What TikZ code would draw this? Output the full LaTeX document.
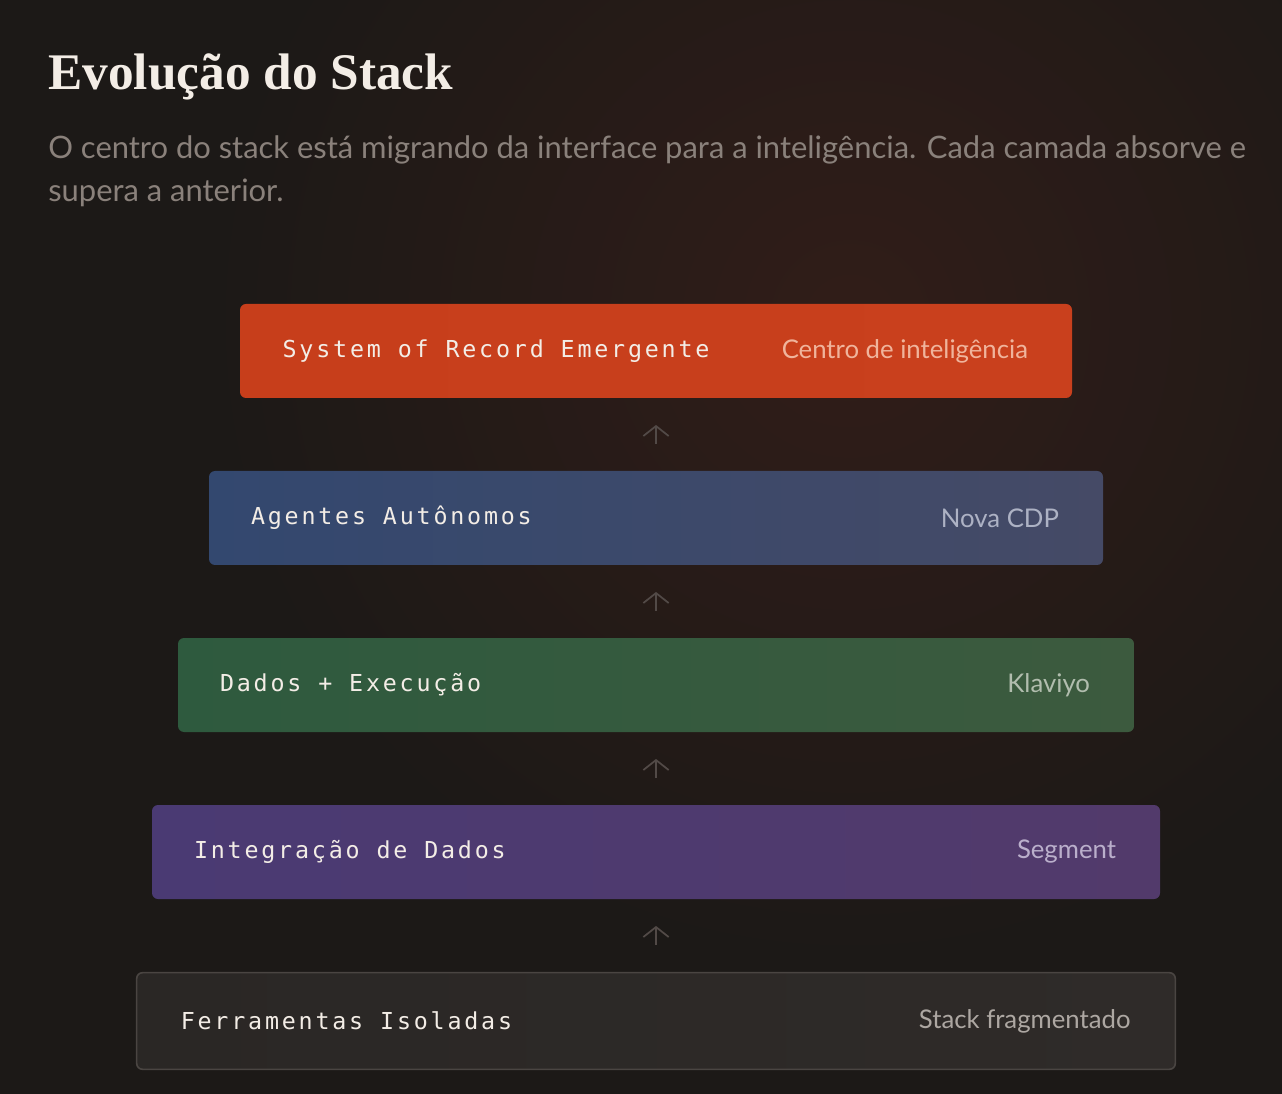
\documentclass[tikz,border=0pt]{standalone}
\usepackage{fontspec}
\usetikzlibrary{positioning,arrows.meta}
\setmainfont{Lato}
\newfontfamily\titlefont{Liberation Serif}
\newfontfamily\layerfont[LetterSpace=12]{DejaVu Sans Mono}
\definecolor{bgdark}{HTML}{1C1917}
\definecolor{bgglow}{HTML}{311D18}
\definecolor{titlecol}{HTML}{F3EDE6}
\definecolor{subcol}{HTML}{8A817B}
\definecolor{redA}{HTML}{C73E1B}
\definecolor{redB}{HTML}{C9401D}
\definecolor{blueA}{HTML}{33486F}
\definecolor{blueB}{HTML}{454A66}
\definecolor{greenA}{HTML}{2E5A3E}
\definecolor{greenB}{HTML}{3C5A3E}
\definecolor{purpA}{HTML}{4A3A73}
\definecolor{purpB}{HTML}{523A6B}
\definecolor{greyA}{HTML}{2A2725}
\definecolor{greyB}{HTML}{2F2B29}
\definecolor{greyline}{HTML}{4A4542}
\definecolor{arrowcol}{HTML}{524A47}
\definecolor{redlabel}{HTML}{F0B49C}
\definecolor{bluelabel}{HTML}{ADB2C4}
\definecolor{greenlabel}{HTML}{B1BDAE}
\definecolor{purplabel}{HTML}{BAAFCB}
\definecolor{greylabel}{HTML}{ADA7A2}
\tikzset{
  layer/.style={rounded corners=4.5pt, minimum height=70.5pt, inner sep=0pt},
  layername/.style={anchor=west, inner sep=0pt, text=titlecol, font=\layerfont\fontsize{17.5}{20}\selectfont},
  layertag/.style={anchor=east, inner sep=0pt, font=\fontsize{19.3}{22}\selectfont},
  up/.style={draw=arrowcol, line width=1.3pt, -{Straight Barb[length=7.5pt,width=19pt]}, shorten >=20pt, shorten <=20pt}
}
\begin{document}
\begin{tikzpicture}[x=0.75pt,y=-0.75pt]
        \useasboundingbox (0,0) rectangle (1282,1094);
        % Background
        \fill[bgdark] (0,0) rectangle (1282,1094);
        \begin{scope}
            \clip (0,0) rectangle (1282,1094);
            \shade[inner color=bgglow, outer color=bgdark] (850,320) circle (640);
        \end{scope}
        % Heading
        \node[anchor=base west, inner sep=0pt, text=titlecol, font=\titlefont\bfseries\fontsize{38.5}{46}\selectfont] (title) at (48,90) {Evolução do Stack};
        \node[anchor=base west, inner sep=0pt, text=subcol, font=\fontsize{23.2}{32.5}\selectfont, align=left] (sub) at (48,202)
            {O centro do stack está migrando da interface para a inteligência. Cada camada absorve e\\supera a anterior.};
        % Layers
        \node[layer, left color=redA, right color=redB, minimum width=624pt] (sor) at (656,351) {};
        \node[layer, left color=blueA, right color=blueB, minimum width=670.5pt] (agents) at (656,518) {};
        \node[layer, left color=greenA, right color=greenB, minimum width=717pt] (exec) at (656,685) {};
        \node[layer, left color=purpA, right color=purpB, minimum width=756pt] (integ) at (656,852) {};
        \node[layer, draw=greyline, line width=1.2pt, left color=greyA, right color=greyB, minimum width=779pt, minimum height=72.5pt] (tools) at (656,1021) {};
        % Labels
        \node[layername] (sorname) at ([xshift=32pt]sor.west) {System of Record Emergente};
        \node[layertag, text=redlabel] (sortag) at ([xshift=-33pt]sor.east) {Centro de inteligência};
        \node[layername] (agentsname) at ([xshift=31.5pt]agents.west) {Agentes Autônomos};
        \node[layertag, text=bluelabel] (agentstag) at ([xshift=-33pt]agents.east) {Nova CDP};
        \node[layername] (execname) at ([xshift=31.5pt]exec.west) {Dados + Execução};
        \node[layertag, text=greenlabel] (exectag) at ([xshift=-33pt]exec.east) {Klaviyo};
        \node[layername] (integname) at ([xshift=31.5pt]integ.west) {Integração de Dados};
        \node[layertag, text=purplabel] (integtag) at ([xshift=-33pt]integ.east) {Segment};
        \node[layername] (toolsname) at ([xshift=33.5pt]tools.west) {Ferramentas Isoladas};
        \node[layertag, text=greylabel] (toolstag) at ([xshift=-34pt]tools.east) {Stack fragmentado};
        % Arrows
        \foreach \a/\b in {tools/integ, integ/exec, exec/agents, agents/sor}
            \draw[up] (\a.north) -- (\b.south);
    \end{tikzpicture}
\end{document}
